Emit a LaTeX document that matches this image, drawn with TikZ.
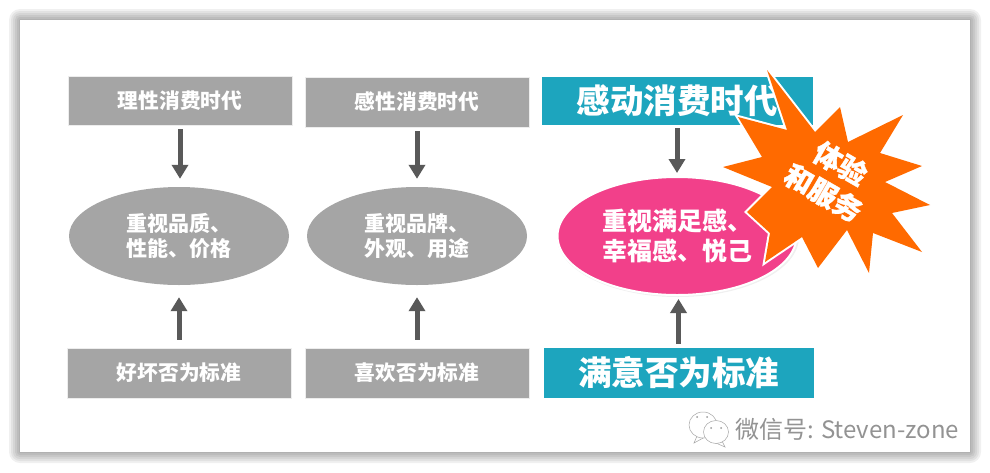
\documentclass[tikz,border=0pt]{standalone}
\usepackage{fontspec}
\usepackage{xcolor}
\usepackage{tikz}
\usetikzlibrary{shapes.geometric}
\usetikzlibrary{arrows.meta}
\newfontfamily\cjk{Noto Sans CJK SC}
\newfontfamily\cjkfat[BoldFeatures={FakeBold=1.2}]{Noto Sans CJK SC}
\definecolor{boxgray}{HTML}{A5A5A5}
\definecolor{boxteal}{HTML}{1DA5BE}
\definecolor{ovalpink}{HTML}{F2408A}
\definecolor{starorange}{HTML}{FF6A00}
\definecolor{arrowgray}{HTML}{595959}
\tikzset{
    erabox/.style = {rectangle, fill=boxgray, draw=white!80!boxgray, line width=.6pt, inner sep=0pt, text=white, align=center, font=\cjk\bfseries\fontsize{20.7}{24}\selectfont},
    bigbox/.style = {erabox, fill=boxteal, draw=boxteal, font=\cjk\bfseries\fontsize{33.5}{38}\selectfont},
    oval/.style = {ellipse, fill=boxgray, inner sep=0pt, text=white, align=center, font=\cjk\bfseries\fontsize{21}{25}\selectfont},
    bigoval/.style = {oval, fill=ovalpink, draw=white, line width=2pt, font=\cjk\bfseries\fontsize{25}{30}\selectfont},
    flow/.style = {-{Triangle[width=16pt,length=14pt]}, line width=5pt, draw=arrowgray},
    bubble/.style = {draw=gray!70, fill=white, line width=.5pt}
}

\begin{document}
\begin{tikzpicture}[x=1pt, y=-1pt]
    \useasboundingbox (0,0) rectangle (990,472);

    % draw page with soft shadow
    \foreach \i in {11,9,...,1} {
        \fill[black, opacity=.06, rounded corners=\i pt] (20-\i,20-\i) rectangle (970+\i,452+\i);
    }
    \fill[white] (20,20) rectangle (970,452);

    % draw boxes
    \node[erabox, minimum width=224pt, minimum height=49pt] (top1) at (180,100.5) {理性消费时代};
    \node[erabox, minimum width=224pt, minimum height=50pt] (top2) at (417,102) {感性消费时代};
    \node[bigbox, minimum width=270pt, minimum height=47pt] (top3) at (677,100.5) {感动消费时代};
    \node[erabox, minimum width=224pt, minimum height=50pt] (bot1) at (179,373) {好坏否为标准};
    \node[erabox, minimum width=224pt, minimum height=50pt] (bot2) at (417,373) {喜欢否为标准};
    \node[bigbox, minimum width=269pt, minimum height=49pt] (bot3) at (678.5,372.5) {满意否为标准};

    % draw ovals
    \node[oval, minimum width=220pt, minimum height=98pt] (oval1) at (179,236) {重视品质、\\性能、价格};
    \node[oval, minimum width=220pt, minimum height=98pt] (oval2) at (417,236) {重视品牌、\\外观、用途};
    \fill[black, opacity=.06] (678,237) ellipse [x radius=121, y radius=60];
    \node[bigoval, minimum width=239pt, minimum height=118pt] (oval3) at (677,236) {重视满足感、\\幸福感、悦己};

    % draw arrows
    \draw[flow, shorten <=4pt, shorten >=8pt] (top1.south) -- (oval1.north -| top1.south);
    \draw[flow, shorten <=4pt, shorten >=8pt] (top2.south) -- (oval2.north -| top2.south);
    \draw[flow, shorten <=4pt, shorten >=3pt] (top3.south) -- (oval3.north -| top3.south);
    \draw[flow, shorten <=8pt, shorten >=12pt] (bot1.north) -- (oval1.south -| bot1.north);
    \draw[flow, shorten <=8pt, shorten >=12pt] (bot2.north) -- (oval2.south -| bot2.north);
    \draw[flow, shorten <=4pt, shorten >=3pt] (bot3.north) -- (oval3.south -| bot3.north);

    % draw star
    \fill[starorange, preaction={draw=white, line width=4pt, miter limit=6}]
        (767,70) -- (815,132) -- (840,107) -- (848,142) -- (903,115) -- (880,153)
        -- (922,166) -- (885,182) -- (930,205) -- (892,213) -- (922,252) -- (873,233)
        -- (869,273) -- (847,230) -- (818,268) -- (802,237) -- (765,262) -- (770,233)
        -- (747,212) -- (772,187) -- (723,167) -- (762,157) -- (738,117) -- (787,130) -- cycle;
    \node[rotate=-30, text=white, align=center, font=\cjkfat\bfseries\fontsize{28}{34}\selectfont] (startext) at (832,178) {体验\\和服务};

    % draw watermark
    \draw[bubble] (697,436) -- (694,443) -- (705,437);
    \draw[bubble] (703,425) ellipse [x radius=14, y radius=13];
    \draw[bubble] (722,441) -- (725,447) -- (716,443);
    \draw[bubble] (716,432) ellipse [x radius=12.5, y radius=11.5];
    \fill[gray!80] (697,417) circle (1) (707,417) circle (1) (711,428) circle (1) (721,428) circle (1);
    \node[anchor=west, inner sep=0pt, text=gray!85, font=\cjk\fontsize{24}{28}\selectfont] (mark) at (735,429) {微信号: Steven-zone};
\end{tikzpicture}
\end{document}
